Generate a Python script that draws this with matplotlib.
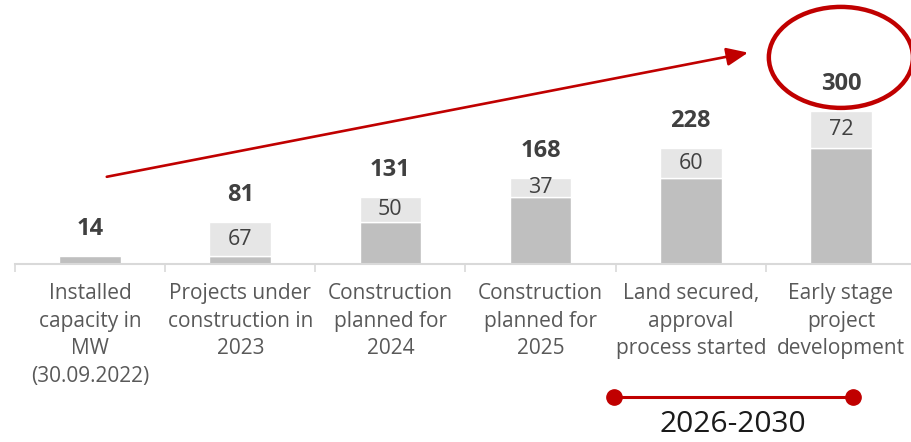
import matplotlib.pyplot as plt
from matplotlib.patches import Ellipse
import numpy as np

categories = [
    "Installed\ncapacity in\nMW\n(30.09.2022)",
    "Projects under\nconstruction in\n2023",
    "Construction\nplanned for\n2024",
    "Construction\nplanned for\n2025",
    "Land secured,\napproval\nprocess started",
    "Early stage\nproject\ndevelopment",
]
increments = [14, 67, 50, 37, 60, 72]
totals = [14, 81, 131, 168, 228, 300]
period_label = "2026-2030"

RED = "#C00000"
DARK = "#BFBFBF"
LIGHT = "#E6E6E6"

plt.rcParams['font.family'] = ['Open Sans', 'DejaVu Sans']

fig = plt.figure(figsize=(9.11, 4.42), dpi=100)
ax = fig.add_axes([15 / 911, (442 - 263.5) / 442, 901 / 911, 420 * 0.507 / 442])

x = np.arange(len(categories))
bases = [0] + totals[:-1]
base_heights = [increments[0]] + totals[:-1]

# first bar is a single block, the rest: previous total + increment on top
ax.bar(x, base_heights, width=0.41, color=DARK, edgecolor="white", linewidth=1.0, zorder=2)
ax.bar(x[1:], increments[1:], bottom=bases[1:], width=0.41, color=LIGHT,
       edgecolor="white", linewidth=1.0, zorder=2)

for i in range(1, len(x)):
    ax.text(x[i], bases[i] + increments[i] / 2, str(increments[i]), ha="center", va="center",
            fontsize=15.5, color="#404040")
for i, t in enumerate(totals):
    ax.text(x[i], t + 27 / 0.507, str(t), ha="center", va="center",
            fontsize=17, fontweight="bold", color="#404040")

ax.set_xlim(-0.5, 5.5)
ax.set_ylim(0, 420)
ax.set_yticks([])
ax.set_xticks(np.arange(-0.5, 6.0, 1.0))
ax.set_xticklabels([])
ax.tick_params(axis="x", length=6, width=1.2, color="#D9D9D9")
for s in ["top", "right", "left"]:
    ax.spines[s].set_visible(False)
ax.spines["bottom"].set_color("#D9D9D9")
ax.spines["bottom"].set_linewidth(1.5)

for i, lab in enumerate(categories):
    ax.annotate(lab, xy=(x[i], 0), xytext=(0, -14), textcoords="offset points",
                ha="center", va="top", fontsize=15, color="#595959", linespacing=1.42,
                annotation_clip=False)

# growth arrow
ax.annotate("", xy=(4.40, 417), xytext=(0.093, 170), xycoords="data",
            arrowprops=dict(arrowstyle="-|>,head_length=1.3,head_width=0.55", color=RED, lw=1.9),
            annotation_clip=False)

# highlight ellipse around the final total
ell = Ellipse((5, totals[-1] + 54 / 0.507), width=0.96, height=101 / 0.507, fill=False,
              edgecolor=RED, linewidth=3.2, clip_on=False, zorder=5)
ax.add_patch(ell)

# timeline for the last two categories
fig.lines.append(plt.Line2D([614 / 911, 853 / 911], [1 - 397 / 442, 1 - 397 / 442],
                            transform=fig.transFigure, color=RED, lw=2.2,
                            marker="o", markersize=11))
fig.text(733 / 911, 1 - 425 / 442, period_label, ha="center", va="center",
         fontsize=21.5, color="#1A1A1A")

fig.savefig("out.png", dpi=100, facecolor="white")
